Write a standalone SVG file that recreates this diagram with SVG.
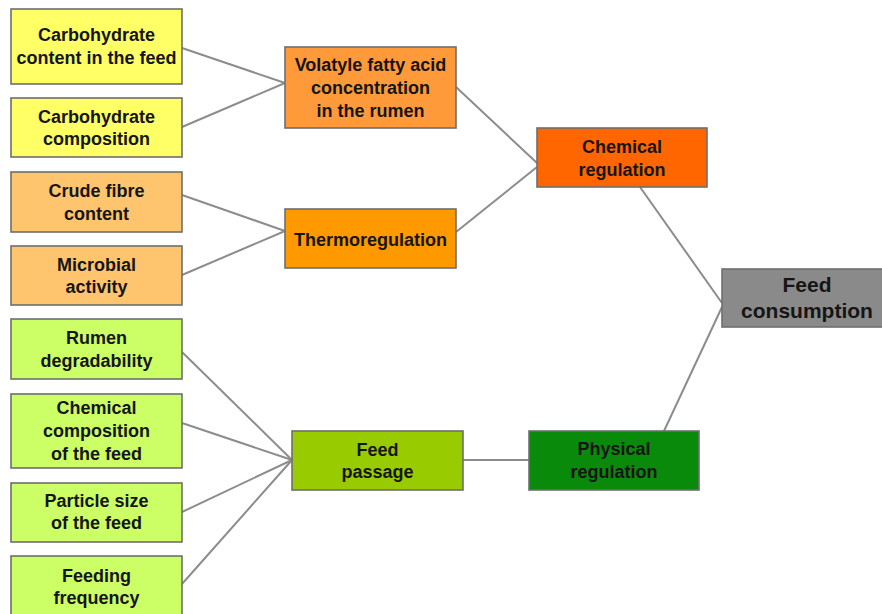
<svg xmlns="http://www.w3.org/2000/svg" width="882" height="614" viewBox="0 0 882 614">
<style>
.box{stroke:#6e6e6e;stroke-width:1.6}
.t{font-family:"Liberation Sans",Arial,sans-serif;font-weight:bold;font-size:18px;fill:#151515;text-anchor:middle}
.big{font-size:21px}
.yel{fill:#FFFF66}
.lor{fill:#FFC46E}
.vfa{fill:#FF9A3A}
.thr{fill:#FF9900}
.chr{fill:#FF6600}
.lgr{fill:#CCFF66}
.fpa{fill:#99CC00}
.phy{fill:#0A8A0A}
.gry{fill:#8A8A8A}
.c line{stroke:#8c8c8c;stroke-width:2}
</style>
<rect width="882" height="614" fill="#ffffff"/>
<g class="c" id="connectors">
<line x1="182" y1="48" x2="285" y2="83"/>
<line x1="182" y1="127" x2="285" y2="83"/>
<line x1="182" y1="195" x2="285" y2="231"/>
<line x1="182" y1="275" x2="285" y2="231"/>
<line x1="456" y1="87" x2="537" y2="163"/>
<line x1="456" y1="232" x2="537" y2="167"/>
<line x1="182" y1="352" x2="292" y2="460"/>
<line x1="182" y1="423" x2="292" y2="460"/>
<line x1="182" y1="512" x2="292" y2="460"/>
<line x1="182" y1="584" x2="292" y2="460"/>
<line x1="463" y1="460" x2="529" y2="460"/>
<line x1="640" y1="187" x2="722" y2="303"/>
<line x1="664" y1="431" x2="722" y2="307"/>
</g>
<g id="carb-content"><rect class="box yel" x="11" y="9" width="171" height="75"/><text class="t" x="96.5" y="41">Carbohydrate</text><text class="t" x="96.5" y="64">content in the feed</text></g>
<g id="carb-composition"><rect class="box yel" x="11" y="98" width="171" height="59"/><text class="t" x="96.5" y="123">Carbohydrate</text><text class="t" x="96.5" y="145">composition</text></g>
<g id="crude-fibre"><rect class="box lor" x="11" y="172" width="171" height="60"/><text class="t" x="96.5" y="197">Crude fibre</text><text class="t" x="96.5" y="220">content</text></g>
<g id="microbial"><rect class="box lor" x="11" y="246" width="171" height="59"/><text class="t" x="96.5" y="271">Microbial</text><text class="t" x="96.5" y="293">activity</text></g>
<g id="rumen-degradability"><rect class="box lgr" x="11" y="319" width="171" height="60"/><text class="t" x="96.5" y="344">Rumen</text><text class="t" x="96.5" y="367">degradability</text></g>
<g id="chemical-composition"><rect class="box lgr" x="11" y="394" width="171" height="74"/><text class="t" x="96.5" y="414">Chemical</text><text class="t" x="96.5" y="437">composition</text><text class="t" x="96.5" y="460">of the feed</text></g>
<g id="particle-size"><rect class="box lgr" x="11" y="483" width="171" height="59"/><text class="t" x="96.5" y="507">Particle size</text><text class="t" x="96.5" y="529">of the feed</text></g>
<g id="feeding-frequency"><rect class="box lgr" x="11" y="556" width="171" height="70"/><text class="t" x="96.5" y="582">Feeding</text><text class="t" x="96.5" y="604">frequency</text></g>
<g id="vfa"><rect class="box vfa" x="285" y="47" width="171" height="81"/><text class="t" x="370.5" y="71">Volatyle fatty acid</text><text class="t" x="370.5" y="94">concentration</text><text class="t" x="370.5" y="117">in the rumen</text></g>
<g id="thermoregulation"><rect class="box thr" x="285" y="209" width="171" height="59"/><text class="t" x="370.5" y="246">Thermoregulation</text></g>
<g id="feed-passage"><rect class="box fpa" x="292" y="431" width="171" height="59"/><text class="t" x="377.5" y="456">Feed</text><text class="t" x="377.5" y="478">passage</text></g>
<g id="chemical-regulation"><rect class="box chr" x="537" y="128" width="170" height="59"/><text class="t" x="622" y="153">Chemical</text><text class="t" x="622" y="176">regulation</text></g>
<g id="physical-regulation"><rect class="box phy" x="529" y="431" width="170" height="59"/><text class="t" x="614" y="455">Physical</text><text class="t" x="614" y="478">regulation</text></g>
<g id="feed-consumption"><rect class="box gry" x="722" y="269" width="170" height="58"/><text class="t big" x="807" y="292">Feed</text><text class="t big" x="807" y="318">consumption</text></g>
</svg>
